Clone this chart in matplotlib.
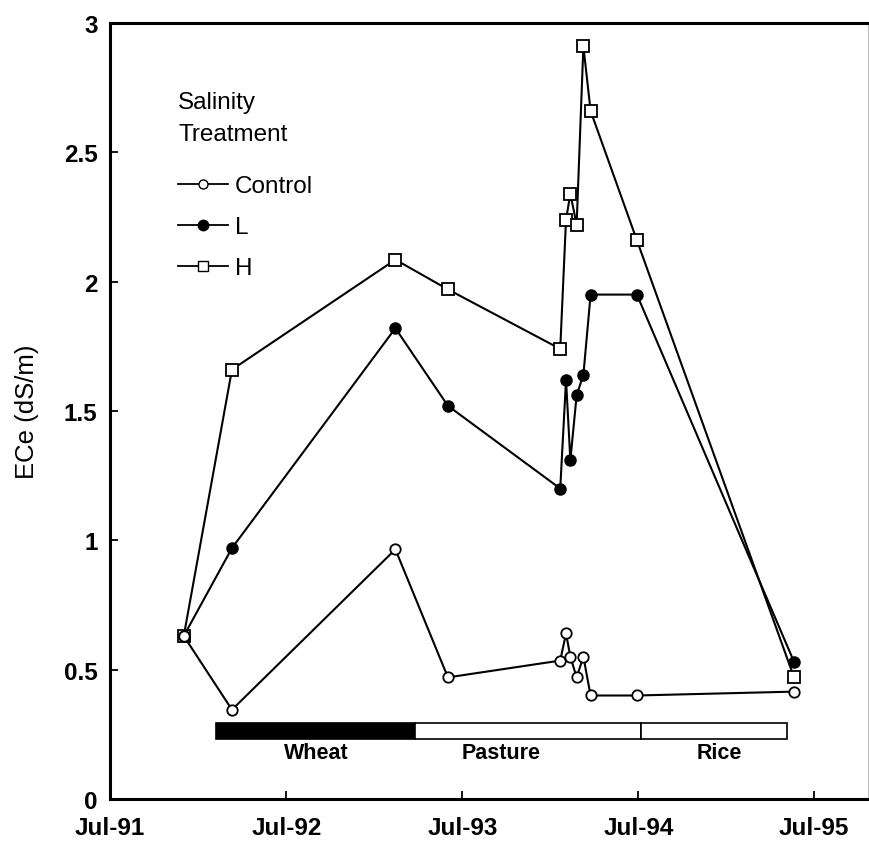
import matplotlib
matplotlib.use("Agg")
import matplotlib.pyplot as plt
import matplotlib.dates as mdates
from matplotlib.lines import Line2D
import pandas as pd

# sampling dates shared by all three treatments
sample_dates = ["1991-12-01", "1992-03-10", "1993-02-12", "1993-06-01", "1994-01-20", "1994-02-01",
                "1994-02-10", "1994-02-23", "1994-03-09", "1994-03-24", "1994-06-28", "1995-05-20"]
control = [0.63, 0.345, 0.965, 0.47, 0.535, 0.64, 0.55, 0.47, 0.55, 0.40, 0.40, 0.415]
low = [0.63, 0.97, 1.82, 1.52, 1.20, 1.62, 1.31, 1.56, 1.64, 1.95, 1.95, 0.53]
high = [0.63, 1.66, 2.085, 1.97, 1.74, 2.24, 2.34, 2.22, 2.91, 2.66, 2.16, 0.47]

# crop sequence bar
crops = ["Wheat", "Pasture", "Rice"]
crop_start = ["1992-02-05", "1993-03-24", "1994-07-07"]
crop_end = ["1993-03-24", "1994-07-07", "1995-05-06"]
crop_label_at = ["1992-09-01", "1993-09-20", "1994-12-15"]
crop_color = ["black", "white", "white"]

x_ticks = ["1991-07-01", "1992-07-01", "1993-07-01", "1994-07-01", "1995-07-01"]
y_ticks = [0, 0.5, 1, 1.5, 2, 2.5, 3]

plt.rcParams["font.family"] = ["Liberation Sans", "DejaVu Sans"]

fig = plt.figure(figsize=(8.69, 8.45), dpi=100)
ax = fig.add_axes([0.1266, 0.0533, 0.872, 0.9183])

dates = pd.to_datetime(sample_dates)
ax.plot(dates, high, "-", color="black", lw=1.5, marker="s", ms=9, mfc="white", mec="black", mew=1.3, zorder=3)
ax.plot(dates, low, "-", color="black", lw=1.5, marker="o", ms=8, mfc="black", mec="black", zorder=4)
ax.plot(dates, control, "-", color="black", lw=1.5, marker="o", ms=7.5, mfc="white", mec="black", mew=1.3, zorder=5)

# crop bar under the data
starts = pd.to_datetime(crop_start)
ends = pd.to_datetime(crop_end)
for name, s, e, c, at in zip(crops, starts, ends, crop_color, pd.to_datetime(crop_label_at)):
    ax.bar(s, 0.062, width=(e - s), bottom=0.233, align="edge", color=c, edgecolor="black", lw=1.2, zorder=2)
    ax.text(at, 0.18, name, ha="center", va="center", fontsize=15.5, fontweight="bold")

ax.set_xlim(pd.Timestamp("1991-07-01"), pd.Timestamp("1995-10-20"))
ax.set_ylim(0, 3)
ax.set_xticks(pd.to_datetime(x_ticks))
ax.xaxis.set_major_formatter(mdates.DateFormatter("%b-%y"))
ax.set_yticks(y_ticks)
ax.set_yticklabels([f"{v:g}" for v in y_ticks])
ax.tick_params(direction="in", length=6, width=1.3, labelsize=17.5)
ax.tick_params(axis="x", pad=12)
ax.tick_params(axis="y", pad=9)
for lab in ax.get_xticklabels() + ax.get_yticklabels():
    lab.set_fontweight("bold")
ax.set_ylabel("ECe (dS/m)", fontsize=18.5, labelpad=18)

for side in ("left", "bottom", "top"):
    ax.spines[side].set_linewidth(2.2)
ax.spines["right"].set_linewidth(0.8)
ax.spines["right"].set_color("#bbbbbb")

handles = [Line2D([], [], color="black", lw=1.3, marker="o", ms=6.5, mfc="white", mec="black"),
           Line2D([], [], color="black", lw=1.3, marker="o", ms=7.5, mfc="black"),
           Line2D([], [], color="black", lw=1.3, marker="s", ms=7.5, mfc="white", mec="black")]
leg = ax.legend(handles, ["Control", "L", "H"], title="Salinity\nTreatment", loc="upper left",
                bbox_to_anchor=(0.061, 0.941), frameon=False, fontsize=17.5, title_fontsize=17.5,
                handlelength=2.05, handletextpad=0.28, labelspacing=0.78, alignment="left")
leg.get_title().set_linespacing(1.6)
leg._legend_box.sep = 22

fig.savefig("out.png", dpi=100)
